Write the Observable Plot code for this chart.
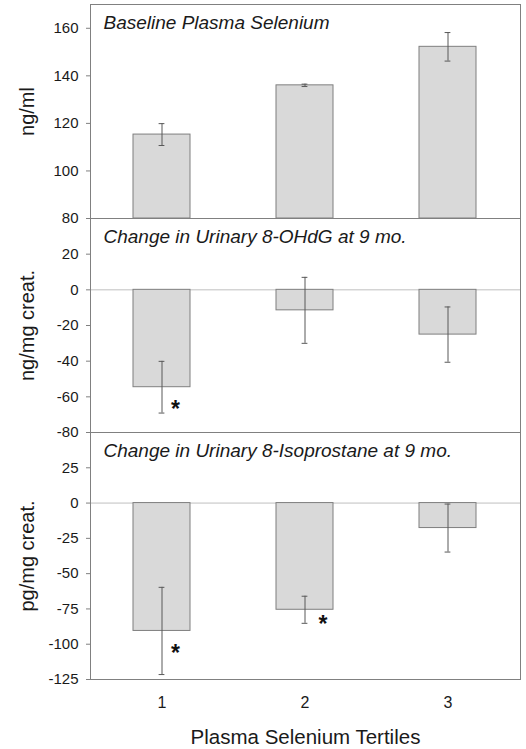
<!DOCTYPE html>
<html>
<head>
<meta charset="utf-8">
<script src="https://cdn.jsdelivr.net/npm/d3@7"></script>
<script src="https://cdn.jsdelivr.net/npm/@observablehq/plot@0.6"></script>
<style>
  html, body { margin: 0; padding: 0; background: white; overflow: hidden; }
  #chart svg { display: block; }
</style>
</head>
<body>
<div id="chart"></div>
<script>
// ---- data ----
const tertiles = [1, 2, 3];
const seleniumMean = [115.3, 136.0, 152.2];
const seleniumErr = [4.6, 0.5, 6.0];
const ohdgMean = [-54.6, -11.5, -25.1];
const ohdgErr = [14.5, 18.5, 15.5];
const isoMean = [-90.6, -75.6, -17.7];
const isoErr = [30.9, 9.6, 17.0];
const seleniumTicks = [80, 100, 120, 140, 160];
const ohdgTicks = [-80, -60, -40, -20, 0, 20];
const isoTicks = [-125, -100, -75, -50, -25, 0, 25];
const ohdgStarTertiles = [1];
const ohdgStarLevels = [-66];
const isoStarTertiles = [1, 2];
const isoStarLevels = [-105, -85];
const titles = ["Baseline Plasma Selenium", "Change in Urinary 8-OHdG at 9 mo.", "Change in Urinary 8-Isoprostane at 9 mo."];
const yLabels = ["ng/ml", "ng/mg creat.", "pg/mg creat."];
const xTitle = "Plasma Selenium Tertiles";

const FONT = "'Liberation Sans', Arial, Helvetica, sans-serif";
const GRID = "#808080";

function panel({mean, err, domain, ticks, title, ylabel, starT, starY, height, marginTop, marginBottom, base, zero, xAxis}) {
  const data = tertiles.map((t, i) => ({t, v: mean[i], lo: mean[i] - err[i], hi: mean[i] + err[i]}));
  const stars = (starT || []).map((t, i) => ({t, y: starY[i]}));
  const marks = [];
  if (zero) marks.push(Plot.ruleY([0], {stroke: "#bfbfbf", strokeWidth: 1}));
  marks.push(Plot.barY(data, base == null
    ? {x: "t", y: "v", fill: "#d9d9d9", stroke: "#7f7f7f", strokeWidth: 1}
    : {x: "t", y1: base, y2: "v", fill: "#d9d9d9", stroke: "#7f7f7f", strokeWidth: 1}));
  marks.push(Plot.ruleX(data, {x: "t", y1: "lo", y2: "hi", stroke: "#595959", strokeWidth: 1}));
  marks.push(Plot.tickY(data, {x: "t", y: "lo", stroke: "#595959", insetLeft: 25.6, insetRight: 25.6}));
  marks.push(Plot.tickY(data, {x: "t", y: "hi", stroke: "#595959", insetLeft: 25.6, insetRight: 25.6}));
  marks.push(Plot.text(stars.filter(d => d.t === 1), {x: "t", y: "y", text: () => "*", dx: 13.5, dy: 2, fontSize: 23, fontWeight: "bold", fill: "#111"}));
  marks.push(Plot.text(stars.filter(d => d.t === 2), {x: "t", y: "y", text: () => "*", dx: 18, dy: 2, fontSize: 23, fontWeight: "bold", fill: "#111"}));
  marks.push(Plot.frame({stroke: GRID, strokeWidth: 1}));
  marks.push(Plot.axisY({ticks, tickFormat: d => String(d), tickSize: 4, tickPadding: 8, fontSize: 15, stroke: GRID, fill: "#1a1a1a", label: null}));
  marks.push(Plot.text([title], {text: d => d, frameAnchor: "top-left", dx: 13, dy: 24, lineAnchor: "bottom", textAnchor: "start", fontSize: 19, fontStyle: "italic", fill: "#1a1a1a"}));
  marks.push(Plot.text([ylabel], {text: d => d, frameAnchor: "left", rotate: -90, dx: -63, lineAnchor: "middle", textAnchor: "middle", fontSize: 20, fill: "#1a1a1a"}));
  if (xAxis) {
    marks.push(Plot.axisX({tickSize: 0, tickPadding: 17, fontSize: 16, fill: "#1a1a1a", label: null}));
    marks.push(Plot.text([xTitle], {text: d => d, frameAnchor: "bottom", dy: 64, lineAnchor: "bottom", fontSize: 20.5, fill: "#1a1a1a"}));
  } else {
    marks.push(Plot.axisX({ticks: [], label: null}));
  }
  return Plot.plot({
    width: 526,
    height,
    marginLeft: 90,
    marginRight: 6,
    marginTop,
    marginBottom,
    style: {fontFamily: FONT, background: "transparent", overflow: "visible"},
    x: {type: "band", domain: tertiles, paddingInner: 0.6, paddingOuter: 0.3, axis: null},
    y: {domain, axis: null},
    marks
  });
}

const chart = document.getElementById("chart");
chart.appendChild(panel({mean: seleniumMean, err: seleniumErr, domain: [80, 170], ticks: seleniumTicks, title: titles[0], ylabel: yLabels[0], height: 218, marginTop: 4, marginBottom: 0, base: 80, zero: false, xAxis: false}));
chart.appendChild(panel({mean: ohdgMean, err: ohdgErr, domain: [-80, 40], ticks: ohdgTicks, title: titles[1], ylabel: yLabels[1], starT: ohdgStarTertiles, starY: ohdgStarLevels, height: 214, marginTop: 0, marginBottom: 0, zero: true, xAxis: false}));
chart.appendChild(panel({mean: isoMean, err: isoErr, domain: [-125, 50], ticks: isoTicks, title: titles[2], ylabel: yLabels[2], starT: isoStarTertiles, starY: isoStarLevels, height: 317, marginTop: 0, marginBottom: 70, zero: true, xAxis: true}));
</script>
</body>
</html>
